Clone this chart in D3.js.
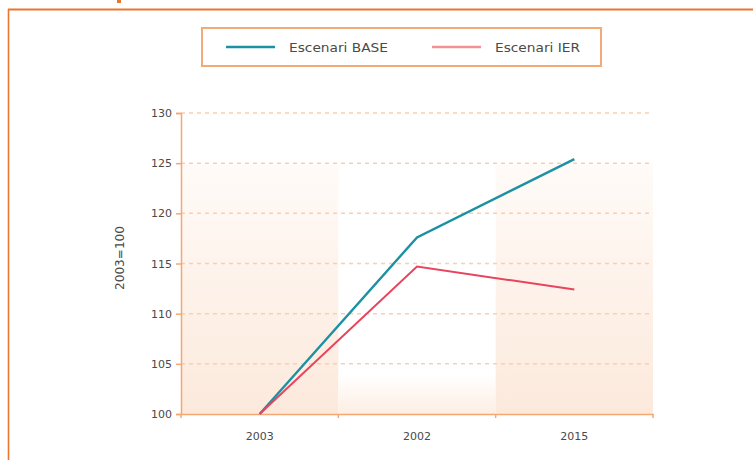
<!DOCTYPE html>
<html><head><meta charset="utf-8">
<script src="https://cdn.jsdelivr.net/npm/d3@7"></script>
<style>
html,body{margin:0;padding:0;background:#fff;}
svg{display:block;}
text{font-family:"DejaVu Sans",sans-serif;fill:#4a4a4a;}
</style></head><body>
<svg id="chart" width="753" height="460"></svg>
<script>
const categories = ["2003", "2002", "2015"];
const seriesNames = ["Escenari BASE", "Escenari IER"];
const baseValues = [100, 117.6, 125.4];
const ierValues = [100, 114.7, 112.4];
const yTicks = [100, 105, 110, 115, 120, 125, 130];
const yTitle = "2003=100";
const colors = ["#1c91a3", "#e8445e"];
const legendColors = ["#1c91a3", "#f29096"];

const svg = d3.select("#chart");
const orange = "#e8772e";
const axisOrange = "#f5a772";

// outer frame
svg.append("line").attr("x1", 8).attr("x2", 753).attr("y1", 9.5).attr("y2", 9.5)
  .attr("stroke", orange).attr("stroke-width", 2);
svg.append("line").attr("x1", 8.5).attr("x2", 8.5).attr("y1", 9).attr("y2", 460)
  .attr("stroke", orange).attr("stroke-width", 1.6);
svg.append("rect").attr("x", 117).attr("y", 0).attr("width", 4).attr("height", 3).attr("fill", orange);

const L = 181, R = 653, T = 113, B = 414;
const x = d3.scaleBand().domain(categories).range([L, R]);
const y = d3.scaleLinear().domain([100, 130]).range([B, T]);

const defs = svg.append("defs");
const g1 = defs.append("linearGradient").attr("id", "bandGrad").attr("x1", 0).attr("x2", 0).attr("y1", 0).attr("y2", 1);
g1.append("stop").attr("offset", "0%").attr("stop-color", "#fffbf8");
g1.append("stop").attr("offset", "100%").attr("stop-color", "#fce9dc");
const g2 = defs.append("linearGradient").attr("id", "midGrad").attr("x1", 0).attr("x2", 0).attr("y1", 0).attr("y2", 1);
g2.append("stop").attr("offset", "0%").attr("stop-color", "#ffffff");
g2.append("stop").attr("offset", "100%").attr("stop-color", "#fdeee3");

// shaded bands
categories.forEach((c, i) => {
  if (i % 2 === 0) {
    svg.append("rect").attr("x", x(c)).attr("width", x.bandwidth())
      .attr("y", y(125)).attr("height", y(100) - y(125)).attr("fill", "url(#bandGrad)");
  } else {
    svg.append("rect").attr("x", x(c)).attr("width", x.bandwidth())
      .attr("y", y(104)).attr("height", y(100) - y(104)).attr("fill", "url(#midGrad)");
  }
});

// gridlines
svg.append("g").selectAll("line").data(yTicks.filter(t => t > 100)).join("line")
  .attr("x1", L).attr("x2", R).attr("y1", d => y(d)).attr("y2", d => y(d))
  .attr("stroke", "#fbcfae").attr("stroke-width", 1.5).attr("stroke-dasharray", "4,4");

// y axis
const yAxis = svg.append("g").attr("transform", `translate(${L},0)`)
  .call(d3.axisLeft(y).tickValues(yTicks).tickSize(5).tickPadding(4));
yAxis.select(".domain").attr("stroke", axisOrange).attr("stroke-width", 1.5);
yAxis.selectAll(".tick line").attr("stroke", axisOrange).attr("stroke-width", 1.5);
yAxis.selectAll(".tick text").attr("font-size", 11).attr("fill", "#3e3e3e")
  .style("font-family", "DejaVu Sans");

// x axis
const xAxis = svg.append("g").attr("transform", `translate(0,${B})`)
  .call(d3.axisBottom(x).tickSize(0).tickPadding(18));
xAxis.select(".domain").attr("stroke", axisOrange).attr("stroke-width", 1.5);
xAxis.selectAll(".tick text").attr("font-size", 11).attr("fill", "#3e3e3e")
  .style("font-family", "DejaVu Sans");
const bounds = [L].concat(categories.map(c => x(c) + x.bandwidth()));
svg.append("g").selectAll("line").data(bounds).join("line")
  .attr("x1", d => d).attr("x2", d => d).attr("y1", B).attr("y2", B + 4)
  .attr("stroke", axisOrange).attr("stroke-width", 1.5);

// y title
svg.append("text").attr("transform", `translate(124,258) rotate(-90)`)
  .attr("text-anchor", "middle").attr("font-size", 11.5).attr("fill", "#3e3e3e")
  .attr("textLength", 64).attr("lengthAdjust", "spacingAndGlyphs").text(yTitle);

// lines
const line = d3.line().x((d, i) => x(categories[i]) + x.bandwidth() / 2).y(d => y(d));
[baseValues, ierValues].forEach((vals, i) => {
  svg.append("path").datum(vals).attr("d", line).attr("fill", "none")
    .attr("stroke", colors[i]).attr("stroke-width", i === 0 ? 2.4 : 2);
});

// legend
svg.append("rect").attr("x", 202).attr("y", 28).attr("width", 399).attr("height", 38)
  .attr("fill", "#fff").attr("stroke", "#f5a878").attr("stroke-width", 2);
const legX = [226, 432];
const legLens = [99, 85];
seriesNames.forEach((n, i) => {
  svg.append("line").attr("x1", legX[i]).attr("x2", legX[i] + 49).attr("y1", 47).attr("y2", 47)
    .attr("stroke", legendColors[i]).attr("stroke-width", 2.5);
  svg.append("text").attr("x", legX[i] + 63).attr("y", 51.5).attr("font-size", 12.5)
    .attr("fill", "#333")
    .attr("textLength", legLens[i]).attr("lengthAdjust", "spacingAndGlyphs").text(n);
});
</script>
</body></html>
